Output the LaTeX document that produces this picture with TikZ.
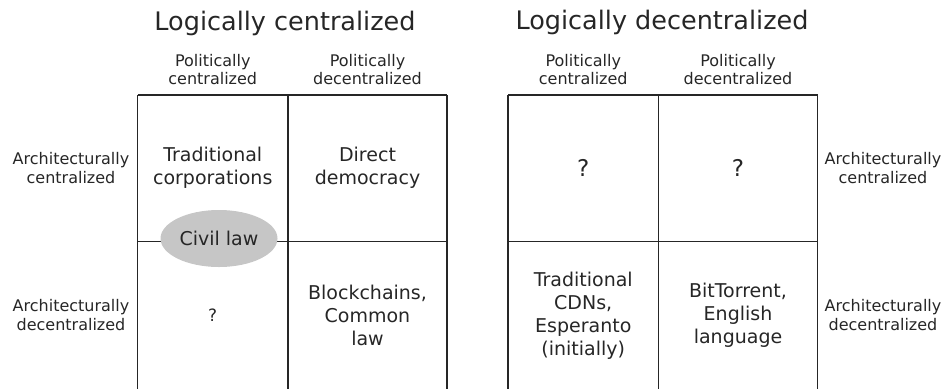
\documentclass[tikz,border=0pt]{standalone}
\usepackage{fontspec}
\setmainfont{DejaVu Sans}
\usepackage{tikz}
\usetikzlibrary{shapes.geometric,positioning}
\definecolor{ink}{HTML}{262626}
\definecolor{blob}{HTML}{C6C6C6}
\tikzset{
cell/.style = {rectangle, inner sep=0pt, outer sep=0pt, align=center, text=ink, font=\fontsize{19}{23}\selectfont, minimum height=146.5pt},
narrow/.style = {cell, minimum width=150.5pt},
wide/.style = {cell, minimum width=159pt},
lowrow/.style = {minimum height=147.5pt},
axis/.style = {inner sep=0pt, align=center, text=ink, font=\fontsize{16}{18.5}\selectfont},
heading/.style = {inner sep=0pt, text=ink, font=\fontsize{25.5}{30}\selectfont},
gridline/.style = {draw=ink, line width=1.8pt},
civil/.style = {ellipse, fill=blob, inner sep=0pt, minimum width=117pt, minimum height=57pt, text=ink, font=\fontsize{19}{23}\selectfont}
}

\begin{document}
\begin{tikzpicture}[x=1pt, y=-1pt]
  \useasboundingbox (0,0) rectangle (947,389);
  % logically centralized
  \node [heading] (ltitle) at (285,23) {Logically centralized};
  \node [narrow] (lcc) at (212.75,168.25) {Traditional\\corporations};
  \node [wide, right=0pt of lcc] (lcd) {Direct\\democracy};
  \node [narrow, lowrow, below=0pt of lcc] (ldc) {\fontsize{17}{20}\selectfont ?};
  \node [wide, lowrow, below=0pt of lcd] (ldd) {Blockchains,\\Common\\law};
  \node [axis, above=10pt of lcc] (lpc) {Politically\\centralized};
  \node [axis, above=10pt of lcd] (lpd) {Politically\\decentralized};
  \node [axis, left=8pt of lcc] (lac) {Architecturally\\centralized};
  \node [axis, left=8pt of ldc] (lad) {Architecturally\\decentralized};
  \draw [gridline] (lcc.north west) -- (lcd.north east);
  \draw [gridline] (lcc.south west) -- (lcd.south east);
  \draw [gridline] (lcc.north west) -- (ldc.south west);
  \draw [gridline] (lcc.north east) -- (ldc.south east);
  \draw [gridline] (lcd.north east) -- (ldd.south east);
  \node [civil] (law) at (219,238.5) {Civil law};
  % logically decentralized
  \node [heading] (rtitle) at (662,22) {Logically decentralized};
  \node [narrow] (rcc) at (583.25,168.25) {\fontsize{23}{26}\selectfont ?};
  \node [wide, right=0pt of rcc] (rcd) {\fontsize{23}{26}\selectfont ?};
  \node [narrow, lowrow, below=0pt of rcc] (rdc) {Traditional\\CDNs,\\Esperanto\\(initially)};
  \node [wide, lowrow, below=0pt of rcd] (rdd) {BitTorrent,\\English\\language};
  \node [axis, above=10pt of rcc] (rpc) {Politically\\centralized};
  \node [axis, above=10pt of rcd] (rpd) {Politically\\decentralized};
  \node [axis, right=7pt of rcd] (rac) {Architecturally\\centralized};
  \node [axis, right=7pt of rdd] (rad) {Architecturally\\decentralized};
  \draw [gridline] (rcc.north west) -- (rcd.north east);
  \draw [gridline] (rcc.south west) -- (rcd.south east);
  \draw [gridline] (rcc.north west) -- (rdc.south west);
  \draw [gridline] (rcc.north east) -- (rdc.south east);
  \draw [gridline] (rcd.north east) -- (rdd.south east);
\end{tikzpicture}
\end{document}
